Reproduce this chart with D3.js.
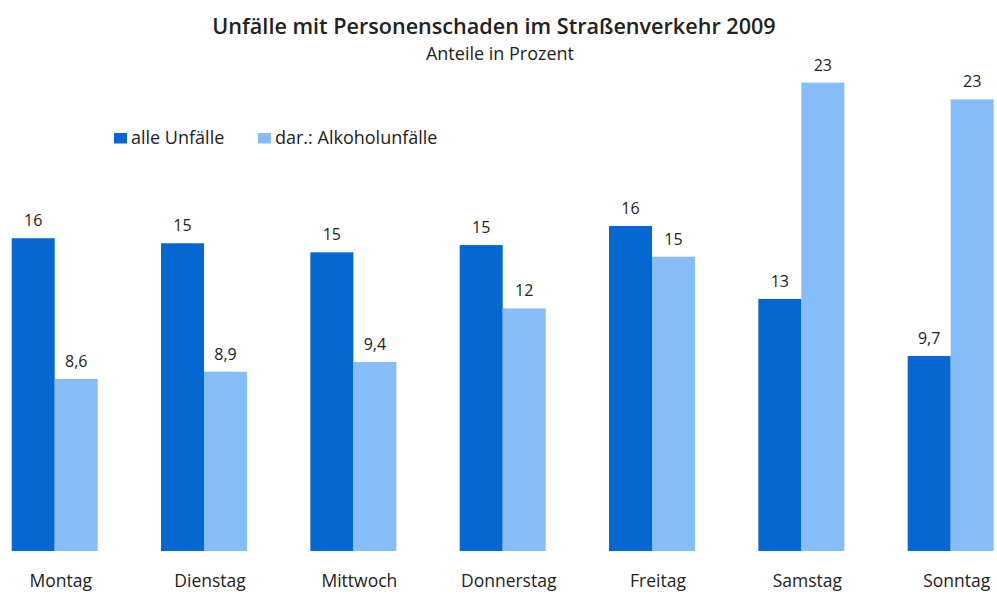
<!DOCTYPE html>
<html><head><meta charset="utf-8">
<script src="https://cdn.jsdelivr.net/npm/d3@7/dist/d3.min.js"></script>
<style>body{margin:0;background:#fff}svg{display:block}text{font-family:"Open Sans","Noto Sans",sans-serif;fill:#222}</style>
</head><body>
<svg id="chart" width="997" height="595"></svg>
<script>
const categories = ["Montag","Dienstag","Mittwoch","Donnerstag","Freitag","Samstag","Sonntag"];
const seriesNames = ["alle Unfälle","dar.: Alkoholunfälle"];
const valuesAll = [15.56, 15.31, 14.86, 15.22, 16.17, 12.54, 9.70];
const valuesAlc = [8.56, 8.92, 9.40, 12.07, 14.64, 23.3, 22.47];
const labelsAll = ["16","15","15","15","16","13","9,7"];
const labelsAlc = ["8,6","8,9","9,4","12","15","23","23"];
const colors = ["#0567d1","#86bcf8"];

const svg = d3.select("#chart");
const base = 551;
const y = d3.scaleLinear().domain([0, 25]).range([base, base - 25*20.1]);
const step = 149.33, groupW = 86;
const xg = d3.scaleBand().domain(categories).range([11.7, 11.7 + 6*step + groupW]).paddingInner(1 - groupW/step).paddingOuter(0);
const x1 = d3.scaleBand().domain([0,1]).range([0, xg.bandwidth()]);

const series = [valuesAll, valuesAlc];
const labels = [labelsAll, labelsAlc];
const groups = svg.selectAll("g.grp").data(categories).join("g")
  .attr("class","grp")
  .attr("transform", d => `translate(${xg(d)},0)`);

groups.each(function(c, i) {
  const gg = d3.select(this);
  [0,1].forEach(s => {
    gg.append("rect")
      .attr("x", x1(s)).attr("width", x1.bandwidth())
      .attr("y", y(series[s][i])).attr("height", base - y(series[s][i]))
      .attr("fill", colors[s]);
    gg.append("text")
      .attr("x", x1(s) + x1.bandwidth()/2)
      .attr("y", y(series[s][i]) - 12)
      .attr("text-anchor","middle")
      .attr("font-size", 16)
      .text(labels[s][i]);
  });
});

svg.selectAll("text.cat").data(categories).join("text")
  .attr("class","cat")
  .attr("x", d => xg(d) + xg.bandwidth()/2 + 6)
  .attr("y", 587)
  .attr("text-anchor","middle")
  .attr("font-size", 17.5)
  .text(d => d);

svg.append("text").attr("x", 494).attr("y", 34).attr("text-anchor","middle")
  .attr("font-size", 21.6).attr("font-weight", 600)
  .text("Unfälle mit Personenschaden im Straßenverkehr 2009");
svg.append("text").attr("x", 500).attr("y", 60).attr("text-anchor","middle")
  .attr("font-size", 18)
  .text("Anteile in Prozent");

const legX = [114, 258];
seriesNames.forEach((n, i) => {
  svg.append("rect").attr("x", legX[i]).attr("y", 133).attr("width", 13).attr("height", 10.5).attr("fill", colors[i]);
  svg.append("text").attr("x", legX[i] + 17).attr("y", 144).attr("font-size", 18).text(n);
});
</script>
</body></html>
